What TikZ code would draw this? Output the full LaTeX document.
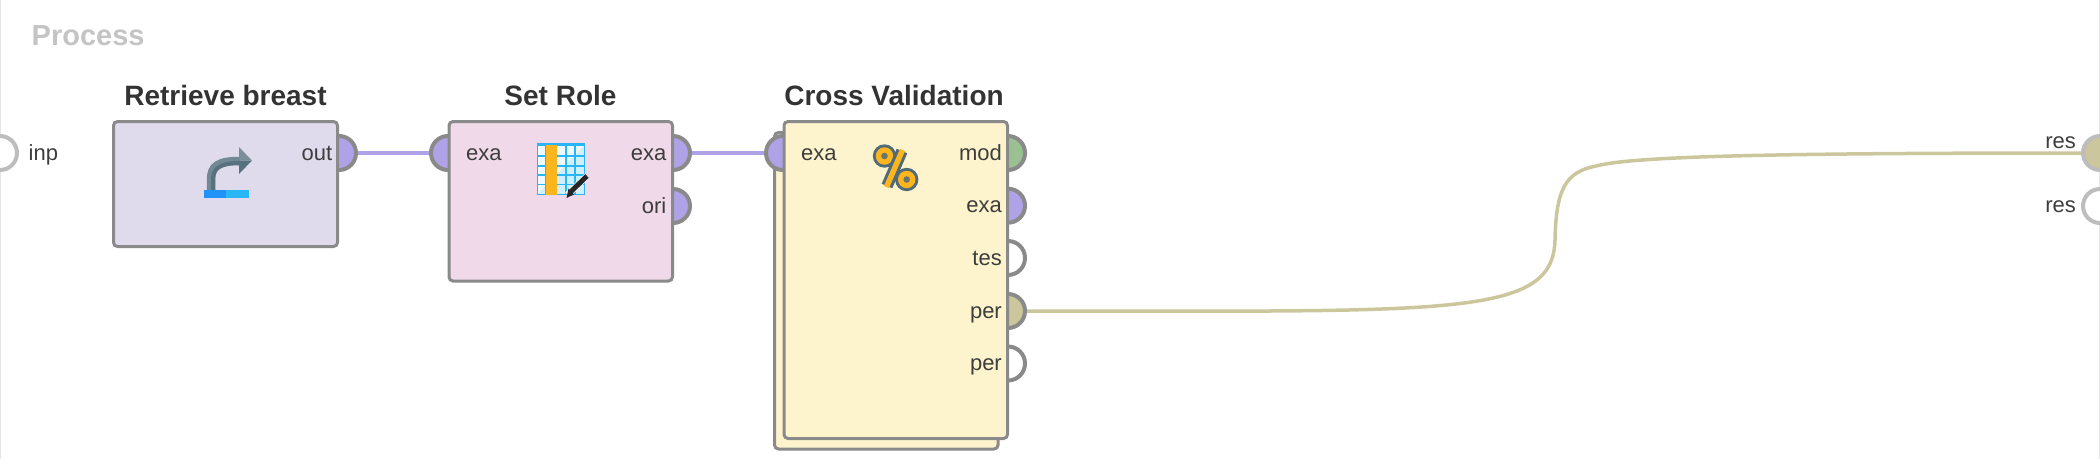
\documentclass[tikz,border=0pt]{standalone}
\usepackage{fontspec}
\setmainfont{Liberation Sans}
\usepackage{tikz}

\definecolor{exacol}{HTML}{B0A2E6}
\definecolor{modcol}{HTML}{9BC192}
\definecolor{percol}{HTML}{CBC69C}
\definecolor{edgecol}{HTML}{8A8A8A}
\definecolor{iocol}{HTML}{BDBDBD}
\definecolor{retcol}{HTML}{DFDBEC}
\definecolor{rolecol}{HTML}{F0D9E8}
\definecolor{cvcol}{HTML}{FDF4CD}
\definecolor{slatecol}{HTML}{4F6A78}
\definecolor{ambercol}{HTML}{FDB51E}
\definecolor{skycol}{HTML}{29B6F6}

\tikzset{
    opbox/.style={draw=edgecol, line width=3pt, rounded corners=4pt, anchor=north west, inner sep=0pt},
    port/.style={circle, draw=edgecol, line width=4pt, minimum size=34pt, inner sep=0pt, fill=white},
    ioport/.style={port, draw=iocol},
    optitle/.style={anchor=base, inner sep=0pt, text=black!80, font=\fontsize{28}{30}\selectfont\bfseries},
    portr/.style={anchor=base east, inner sep=0pt, text=black!76, font=\fontsize{22}{24}\selectfont},
    portl/.style={portr, anchor=base west},
    wire/.style={line width=3.5pt}
}

\begin{document}
\begin{tikzpicture}[x=1pt, y=-1pt]
    \useasboundingbox (0,0) rectangle (2100,459);
    \draw[black!10, line width=1pt] (0.5,0) -- (0.5,459) (2099.5,0) -- (2099.5,459);

    \node[anchor=base west, inner sep=0pt, text=black!23, font=\fontsize{29}{32}\selectfont\bfseries] (proc) at (31.5,45) {Process};

    % Stacked box behind the validation operator
    \node[opbox, fill=cvcol, minimum width=223.5pt, minimum height=316.5pt] (cvback) at (773,131) {};

    % Ports (the boxes cover their inner halves)
    \node[ioport] (inp) at (0,153) {};
    \node[ioport, fill=percol] (resa) at (2100,153) {};
    \node[ioport] (resb) at (2100,206) {};
    \node[port, fill=exacol] (retout) at (339,153) {};
    \node[port, fill=exacol] (rolein) at (448,153) {};
    \node[port, fill=exacol] (roleexa) at (673,153) {};
    \node[port, fill=exacol] (roleori) at (673,206) {};
    \node[port, fill=exacol] (cvin) at (783,153) {};
    \foreach \nm/\yy/\col in {cvmod/153/modcol, cvexa/205.7/exacol, cvtes/258/white, cvper/311/percol, cvpex/363.5/white}
        \node[port, fill=\col] (\nm) at (1008,\yy) {};

    % Wires
    \draw[wire, exacol] (retout) -- (rolein);
    \draw[wire, exacol] (roleexa) -- (cvin);
    \draw[wire, percol] (cvper) .. controls (1450,311) and (1553,318) .. (1555,240)
        .. controls (1556,190) and (1565,172) .. (1596,166)
        .. controls (1630,157) and (1750,153) .. (resa);

    % Operators
    \node[opbox, fill=retcol, minimum width=224pt, minimum height=125pt] (ret) at (112,120) {};
    \node[opbox, fill=rolecol, minimum width=223.5pt, minimum height=159.5pt] (role) at (447.5,120) {};
    \node[opbox, fill=cvcol, minimum width=223.5pt, minimum height=317pt] (cv) at (782.5,120) {};

    \node[optitle] (rettitle) at (225.5,105) {Retrieve breast};
    \node[optitle] (roletitle) at (560.5,105) {Set Role};
    \node[optitle] (cvtitle) at (894,105) {Cross Validation};

    % Port labels
    \node[portl] (inplab) at (28.5,160.7) {inp};
    \node[portr] (retlab) at (332.5,160.7) {out};
    \node[portl] (rolelab) at (466,160.7) {exa};
    \node[portr] (roleexalab) at (666.5,160.7) {exa};
    \node[portr] (roleorilab) at (666.5,213.5) {ori};
    \node[portl] (cvinlab) at (801,160.7) {exa};
    \foreach \nm/\lab/\yy in {cvmodlab/mod/160.7, cvexalab/exa/212.7, cvteslab/tes/265.5, cvperlab/per/318, cvpexlab/per/370.5}
        \node[portr] (\nm) at (1002,\yy) {\lab};
    \node[portr] (resalab) at (2076,148.3) {res};
    \node[portr] (resblab) at (2076,212.7) {res};

    % Retrieve icon
    \draw[line width=8.5pt, slatecol!80] (211,190) -- (211,180) .. controls (211,166) and (218,161) .. (240,161);
    \draw[line width=4pt, slatecol!95] (213,190) -- (213,180) .. controls (213,168) and (220,163) .. (240,163);
    \fill[slatecol!75] (239,147) -- (252,160.5) -- (239,160.5) -- cycle;
    \fill[slatecol!95] (239,174) -- (252,160.5) -- (239,160.5) -- cycle;
    \fill[skycol!80!blue] (203.5,190) rectangle (226,198);
    \fill[skycol] (226,190) rectangle (248.5,198);

    % Table icon
    \fill[skycol] (537,142.5) rectangle (585,195);
    \foreach \xa/\xb in {538/545, 557/565, 566.5/574, 575.5/583.5}
        \foreach \ya/\yb in {146/155, 156.5/165, 166.5/174, 175.5/183.5, 185/193.5}
            \fill[white!92!skycol] (\xa,\ya) rectangle (\xb,\yb);
    \fill[skycol, opacity=0.15] (584,146) -- (584,194) -- (538,194) -- cycle;
    \fill[ambercol] (546,145) rectangle (556.5,195);
    \draw[line width=6.5pt, white!85!rolecol] (567.5,195) -- (587,176);
    \draw[line width=5pt, black!85] (571,191.5) -- (587,176);
    \fill[black!85] (566.5,198) -- (568.5,188.5) -- (574,194.5) -- cycle;

    % Percent icon
    \fill[slatecol] (884.5,156) circle (11.7pt) (906.7,179.5) circle (11.7pt);
    \fill[ambercol] (884.5,156) circle (8.7pt) (906.7,179.5) circle (8.7pt);
    \fill[slatecol!85!ambercol] (884.5,156) circle (3.3pt) (906.7,179.5) circle (3.3pt);
    \draw[line width=11.5pt, slatecol] (902,151) -- (887,186);
    \draw[line width=5.5pt, ambercol] (902.5,150) -- (886.5,187);
\end{tikzpicture}
\end{document}
